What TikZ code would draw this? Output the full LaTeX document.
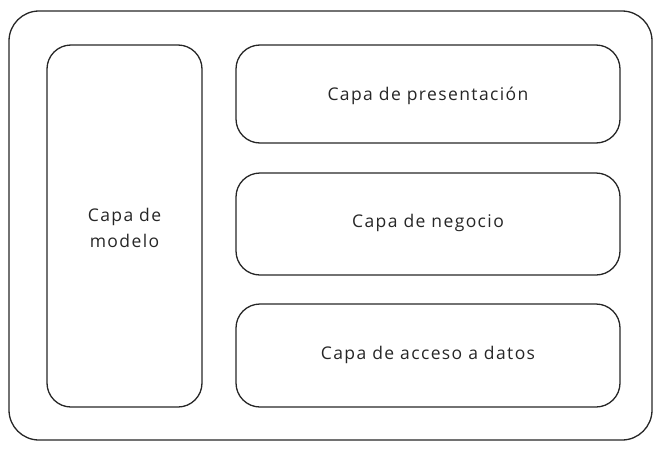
\documentclass[tikz,border=0pt]{standalone}
\usepackage{fontspec}
\setmainfont{Open Sans}[LetterSpace=8]
\begin{document}
\begin{tikzpicture}[x=1pt,y=-1pt,
  box/.style={draw=black!85,line width=1.3pt,rounded corners=24pt},
  lbl/.style={font=\fontsize{17.5}{26}\selectfont,align=center,text=black!85}]
\useasboundingbox (0,0) rectangle (661,450);
\draw[box,rounded corners=30pt] (9,11) rectangle (652,440);
\draw[box] (47,45) rectangle (202,407);
\draw[box] (236,45) rectangle (620,143);
\draw[box] (236,173) rectangle (620,275);
\draw[box] (236,304) rectangle (620,407);
\node[lbl] (m) at (124.5,228) {Capa de\\modelo};
\node[lbl] (p) at (428,96) {Capa de presentación};
\node[lbl] (n) at (428,223) {Capa de negocio};
\node[lbl] (d) at (428,355) {Capa de acceso a datos};
\end{tikzpicture}
\end{document}
